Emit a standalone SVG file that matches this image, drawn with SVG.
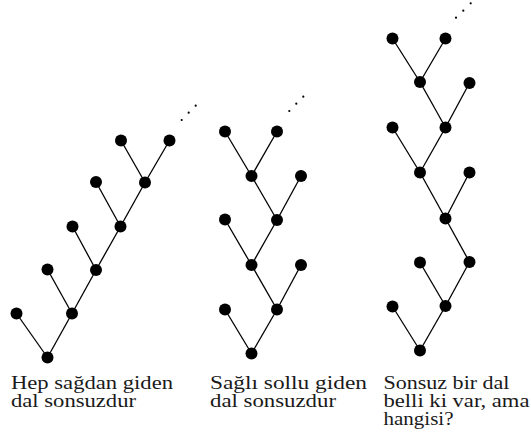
<svg xmlns="http://www.w3.org/2000/svg" width="531" height="438" viewBox="0 0 531 438">
  <style>
    .edge { stroke: #000; stroke-width: 1.3; fill: none; }
    .node circle { fill: #000; }
    .dot { fill: #000; }
    .label { font-family: "Liberation Serif", "Times New Roman", serif; font-size: 19px; fill: #1a1a1a; }
  </style>
  <rect width="531" height="438" fill="#fff"/>

  <!-- connectors: branches of the three binary trees -->
  <g id="connectors">
    <!-- tree 1: always branching right -->
    <line class="edge" x1="47.5" y1="357.5" x2="16.5" y2="313.5"/>
    <line class="edge" x1="47.5" y1="357.5" x2="72" y2="313.5"/>
    <line class="edge" x1="72" y1="313.5" x2="47.5" y2="269.5"/>
    <line class="edge" x1="72" y1="313.5" x2="96" y2="270"/>
    <line class="edge" x1="96" y1="270" x2="72.5" y2="226.5"/>
    <line class="edge" x1="96" y1="270" x2="120.5" y2="226.5"/>
    <line class="edge" x1="120.5" y1="226.5" x2="96" y2="182"/>
    <line class="edge" x1="120.5" y1="226.5" x2="145" y2="182.5"/>
    <line class="edge" x1="145" y1="182.5" x2="121" y2="140.5"/>
    <line class="edge" x1="145" y1="182.5" x2="169.5" y2="140.5"/>
    <!-- tree 2: alternating right and left -->
    <line class="edge" x1="251.5" y1="353.5" x2="225" y2="309.5"/>
    <line class="edge" x1="251.5" y1="353.5" x2="277" y2="309.5"/>
    <line class="edge" x1="277" y1="309.5" x2="251.5" y2="265"/>
    <line class="edge" x1="277" y1="309.5" x2="301" y2="265"/>
    <line class="edge" x1="251.5" y1="265" x2="225" y2="219.5"/>
    <line class="edge" x1="251.5" y1="265" x2="277" y2="220"/>
    <line class="edge" x1="277" y1="220" x2="251.5" y2="176"/>
    <line class="edge" x1="277" y1="220" x2="301" y2="176"/>
    <line class="edge" x1="251.5" y1="176" x2="225" y2="131.5"/>
    <line class="edge" x1="251.5" y1="176" x2="277" y2="131.5"/>
    <!-- tree 3: irregular branching -->
    <line class="edge" x1="420" y1="350.5" x2="392.5" y2="306.5"/>
    <line class="edge" x1="420" y1="350.5" x2="445.5" y2="306"/>
    <line class="edge" x1="445.5" y1="306" x2="420" y2="262.5"/>
    <line class="edge" x1="445.5" y1="306" x2="469.5" y2="262"/>
    <line class="edge" x1="469.5" y1="262" x2="445.5" y2="218.5"/>
    <line class="edge" x1="445.5" y1="218.5" x2="420" y2="172.5"/>
    <line class="edge" x1="445.5" y1="218.5" x2="469.5" y2="172.5"/>
    <line class="edge" x1="420" y1="172.5" x2="392.5" y2="127.5"/>
    <line class="edge" x1="420" y1="172.5" x2="445.5" y2="127.5"/>
    <line class="edge" x1="445.5" y1="127.5" x2="420" y2="82"/>
    <line class="edge" x1="445.5" y1="127.5" x2="469.5" y2="83"/>
    <line class="edge" x1="420" y1="82" x2="392.5" y2="38.5"/>
    <line class="edge" x1="420" y1="82" x2="445.5" y2="38.5"/>
  </g>

  <!-- tree 1 nodes -->
  <g id="t1-n0" class="node"><circle cx="47.5" cy="357.5" r="6"/></g>
  <g id="t1-n1" class="node"><circle cx="16.5" cy="313.5" r="6"/></g>
  <g id="t1-n2" class="node"><circle cx="72" cy="313.5" r="6"/></g>
  <g id="t1-n3" class="node"><circle cx="47.5" cy="269.5" r="6"/></g>
  <g id="t1-n4" class="node"><circle cx="96" cy="270" r="6"/></g>
  <g id="t1-n5" class="node"><circle cx="72.5" cy="226.5" r="6"/></g>
  <g id="t1-n6" class="node"><circle cx="120.5" cy="226.5" r="6"/></g>
  <g id="t1-n7" class="node"><circle cx="96" cy="182" r="6"/></g>
  <g id="t1-n8" class="node"><circle cx="145" cy="182.5" r="6"/></g>
  <g id="t1-n9" class="node"><circle cx="121" cy="140.5" r="6"/></g>
  <g id="t1-n10" class="node"><circle cx="169.5" cy="140.5" r="6"/></g>
  <g id="t1-more">
    <circle class="dot" cx="181.7" cy="120" r="1.1"/>
    <circle class="dot" cx="188.7" cy="112.7" r="1.1"/>
    <circle class="dot" cx="195.7" cy="105.7" r="1.1"/>
  </g>

  <!-- tree 2 nodes -->
  <g id="t2-n0" class="node"><circle cx="251.5" cy="353.5" r="6"/></g>
  <g id="t2-n1" class="node"><circle cx="225" cy="309.5" r="6"/></g>
  <g id="t2-n2" class="node"><circle cx="277" cy="309.5" r="6"/></g>
  <g id="t2-n3" class="node"><circle cx="251.5" cy="265" r="6"/></g>
  <g id="t2-n4" class="node"><circle cx="301" cy="265" r="6"/></g>
  <g id="t2-n5" class="node"><circle cx="225" cy="219.5" r="6"/></g>
  <g id="t2-n6" class="node"><circle cx="277" cy="220" r="6"/></g>
  <g id="t2-n7" class="node"><circle cx="251.5" cy="176" r="6"/></g>
  <g id="t2-n8" class="node"><circle cx="301" cy="176" r="6"/></g>
  <g id="t2-n9" class="node"><circle cx="225" cy="131.5" r="6"/></g>
  <g id="t2-n10" class="node"><circle cx="277" cy="131.5" r="6"/></g>
  <g id="t2-more">
    <circle class="dot" cx="289.3" cy="111" r="1.1"/>
    <circle class="dot" cx="296.3" cy="103.7" r="1.1"/>
    <circle class="dot" cx="303.3" cy="96.7" r="1.1"/>
  </g>

  <!-- tree 3 nodes -->
  <g id="t3-n0" class="node"><circle cx="420" cy="350.5" r="6"/></g>
  <g id="t3-n1" class="node"><circle cx="392.5" cy="306.5" r="6"/></g>
  <g id="t3-n2" class="node"><circle cx="445.5" cy="306" r="6"/></g>
  <g id="t3-n3" class="node"><circle cx="420" cy="262.5" r="6"/></g>
  <g id="t3-n4" class="node"><circle cx="469.5" cy="262" r="6"/></g>
  <g id="t3-n5" class="node"><circle cx="445.5" cy="218.5" r="6"/></g>
  <g id="t3-n6" class="node"><circle cx="420" cy="172.5" r="6"/></g>
  <g id="t3-n7" class="node"><circle cx="469.5" cy="172.5" r="6"/></g>
  <g id="t3-n8" class="node"><circle cx="392.5" cy="127.5" r="6"/></g>
  <g id="t3-n9" class="node"><circle cx="445.5" cy="127.5" r="6"/></g>
  <g id="t3-n10" class="node"><circle cx="420" cy="82" r="6"/></g>
  <g id="t3-n11" class="node"><circle cx="469.5" cy="83" r="6"/></g>
  <g id="t3-n12" class="node"><circle cx="392.5" cy="38.5" r="6"/></g>
  <g id="t3-n13" class="node"><circle cx="445.5" cy="38.5" r="6"/></g>
  <g id="t3-more">
    <circle class="dot" cx="456" cy="17.7" r="1.1"/>
    <circle class="dot" cx="463.3" cy="10.7" r="1.1"/>
    <circle class="dot" cx="470.7" cy="3.3" r="1.1"/>
  </g>

  <!-- captions -->
  <g id="caption-1">
    <text class="label" x="11" y="389" textLength="162" lengthAdjust="spacingAndGlyphs">Hep sağdan giden</text>
    <text class="label" x="11" y="407" textLength="125" lengthAdjust="spacingAndGlyphs">dal sonsuzdur</text>
  </g>
  <g id="caption-2">
    <text class="label" x="210" y="389" textLength="157" lengthAdjust="spacingAndGlyphs">Sağlı sollu giden</text>
    <text class="label" x="210" y="407" textLength="126" lengthAdjust="spacingAndGlyphs">dal sonsuzdur</text>
  </g>
  <g id="caption-3">
    <text class="label" x="383.5" y="389" textLength="126" lengthAdjust="spacingAndGlyphs">Sonsuz bir dal</text>
    <text class="label" x="383.5" y="407" textLength="146" lengthAdjust="spacingAndGlyphs">belli ki var, ama</text>
    <text class="label" x="383.5" y="425" textLength="70" lengthAdjust="spacingAndGlyphs">hangisi?</text>
  </g>
</svg>
